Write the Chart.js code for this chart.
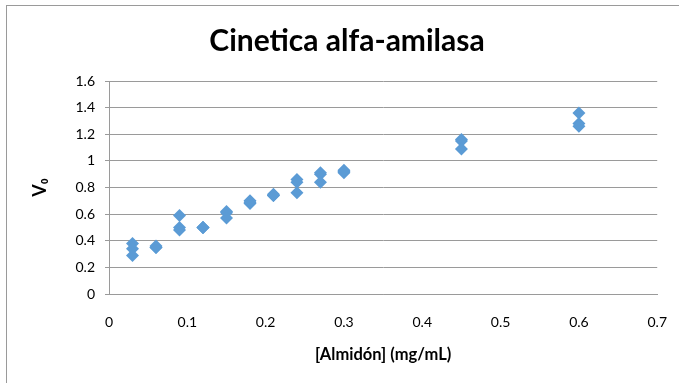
<!DOCTYPE html>
<html>
<head>
<meta charset="utf-8">
<script src="https://cdn.jsdelivr.net/npm/chart.js@4"></script>
<style>
  html, body { margin: 0; padding: 0; background: #fff; overflow: hidden; }
  #wrap { position: relative; width: 679px; height: 383px; }
  #frame { position: absolute; left: 6px; top: 5px; width: 700px; height: 400px;
           border-left: 1px solid #9a9a9a; border-top: 1px solid #9a9a9a; }
  canvas { position: absolute; left: 0; top: 0; }
</style>
</head>
<body>
<div id="wrap">
  <div id="frame"></div>
  <canvas id="myChart" width="679" height="383"></canvas>
</div>
<script>
// data (triplicates per concentration)
const almidon = [0.03, 0.03, 0.03, 0.06, 0.06, 0.06, 0.09, 0.09, 0.09, 0.12, 0.12, 0.12,
                 0.15, 0.15, 0.15, 0.18, 0.18, 0.18, 0.21, 0.21, 0.21, 0.24, 0.24, 0.24,
                 0.27, 0.27, 0.27, 0.30, 0.30, 0.30, 0.45, 0.45, 0.45, 0.60, 0.60, 0.60];
const v0 = [0.38, 0.34, 0.29, 0.35, 0.35, 0.36, 0.59, 0.50, 0.48, 0.50, 0.50, 0.50,
            0.62, 0.61, 0.57, 0.68, 0.69, 0.70, 0.74, 0.75, 0.74, 0.86, 0.84, 0.76,
            0.90, 0.91, 0.84, 0.93, 0.91, 0.92, 1.16, 1.15, 1.09, 1.36, 1.28, 1.26];
const xTicks = [0, 0.1, 0.2, 0.3, 0.4, 0.5, 0.6, 0.7];
const yTicks = [0, 0.2, 0.4, 0.6, 0.8, 1, 1.2, 1.4, 1.6];

const points = almidon.map((x, i) => ({ x: x, y: v0[i] }));
const fam = 'Lato, "DejaVu Sans", sans-serif';

const ctx = document.getElementById('myChart').getContext('2d');
const myChart = new Chart(ctx, {
    type: 'scatter',
    data: {
        datasets: [{
            label: 'V0',
            data: points,
            pointStyle: 'rectRot',
            pointRadius: 6.5,
            backgroundColor: '#5b9bd5',
            borderColor: '#5b9bd5',
            borderWidth: 0
        }]
    },
    options: {
        responsive: false,
        animation: false,
        layout: { padding: { left: 15, right: 0, top: 0, bottom: 0 } },
        plugins: {
            legend: { display: false },
            tooltip: { enabled: false },
            title: {
                display: true,
                text: 'Cinetica alfa-amilasa',
                color: '#000',
                font: { family: fam, size: 30, weight: 'bold' },
                padding: { top: 23, bottom: 22 }
            }
        },
        scales: {
            x: {
                type: 'linear',
                min: 0, max: 0.7,
                afterBuildTicks: (s) => { s.ticks = xTicks.map(v => ({ value: v })); },
                afterFit: (s) => { s.height = 89; },
                grid: { display: false, drawTicks: true, tickLength: 8 },
                border: { display: true, color: '#9a9a9a' },
                ticks: { color: '#000', font: { family: fam, size: 14 }, padding: 12,
                         maxRotation: 0, callback: (v) => String(v) },
                title: { display: true, text: '[Almidón] (mg/mL)', color: '#000',
                         font: { family: fam, size: 16.5, weight: 'bold' }, padding: 18 }
            },
            y: {
                min: 0, max: 1.6,
                afterBuildTicks: (s) => { s.ticks = yTicks.map(v => ({ value: v })); },
                afterFit: (s) => { s.width = 94; },
                grid: { color: '#9a9a9a', drawTicks: true, tickLength: 4 },
                border: { display: true, color: '#9a9a9a' },
                ticks: { color: '#000', font: { family: fam, size: 14 }, padding: 10,
                         callback: (v) => String(v) },
                title: { display: true, text: 'V₀', color: '#000',
                         font: { family: fam, size: 18, weight: 'bold' }, padding: 14 }
            }
        }
    }
});
</script>
</body>
</html>
